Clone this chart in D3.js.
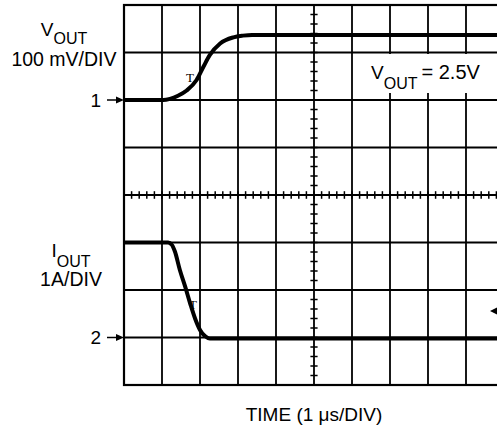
<!DOCTYPE html>
<html><head><meta charset="utf-8">
<script src="https://cdn.jsdelivr.net/npm/d3@7"></script>
<style>
html,body{margin:0;padding:0;background:#fff;}
svg{display:block;}
text{font-family:"Liberation Sans",Arial,Helvetica,sans-serif;fill:#000;}
</style></head><body>
<svg id="chart" width="497" height="431"></svg>
<script>
// ---- data (time in µs; VOUT in mV relative to marker 1; IOUT in A relative to marker 2)
const timeDivs = [0,1,2,3,4,5,6,7,8,9,10];
const vDivs = [-4,-3,-2,-1,0,1,2,3,4];
const voutT  = [0, 1.03, 1.21, 1.42, 1.65, 1.91, 2.09, 2.26, 2.53, 2.88, 3.13, 3.37, 10];
const voutMV = [0, 0,    2.5,  9,    20,   42,   70,   95,   119,  132,  135.5, 137, 137];
const ioutT  = [0, 1.16, 1.26, 1.34, 1.47, 1.61, 1.74, 1.87, 2.0,  2.13, 2.26, 10];
const ioutA  = [2.0, 2.0, 1.95, 1.81, 1.42, 1.07, 0.72, 0.40, 0.16, 0.03, -0.02, -0.02];
const labels = {
  vout: ["V","OUT","100 mV/DIV"],
  iout: ["I","OUT","1A/DIV"],
  xTitle: "TIME (1 \u03BCs/DIV)",
  note: ["V","OUT","= 2.5V"],
  marker1: "1", marker2: "2", trig: "T"
};

const svg = d3.select("#chart");
const x = d3.scaleLinear().domain([0,10]).range([124,504]);
const yDiv = d3.scaleLinear().domain([-4,4]).range([385,5]);
const yV = d3.scaleLinear().domain([-600,200]).range([385,5]);
const yI = d3.scaleLinear().domain([-1,7]).range([385,5]);

const g = svg.append("g");
// grid
g.selectAll("line.vg").data(timeDivs).join("line")
  .attr("x1",d=>x(d)).attr("x2",d=>x(d)).attr("y1",yDiv(4)).attr("y2",yDiv(-4))
  .attr("stroke","#000").attr("stroke-width",1.8);
g.selectAll("line.hg").data(vDivs).join("line")
  .attr("y1",d=>yDiv(d)).attr("y2",d=>yDiv(d)).attr("x1",x(0)).attr("x2",x(10))
  .attr("stroke","#000").attr("stroke-width",1.8);
g.append("rect").attr("x",x(0)).attr("y",yDiv(4)).attr("width",x(10)-x(0)).attr("height",yDiv(-4)-yDiv(4))
  .attr("fill","none").attr("stroke","#000").attr("stroke-width",2.2);

// minor ticks on center axes
const minorX = d3.range(0,10.001,0.2);
const minorY = d3.range(-4,4.001,0.2);
g.selectAll("line.mx").data(minorX).join("line")
  .attr("x1",d=>x(d)).attr("x2",d=>x(d)).attr("y1",yDiv(0)-3.8).attr("y2",yDiv(0)+3.8)
  .attr("stroke","#000").attr("stroke-width",1.5);
g.selectAll("line.my").data(minorY).join("line")
  .attr("y1",d=>yDiv(d)).attr("y2",d=>yDiv(d)).attr("x1",x(5)-3.6).attr("x2",x(5)+3.6)
  .attr("stroke","#000").attr("stroke-width",1.5);

// note box
g.append("rect").attr("x",354).attr("y",54).attr("width",160).attr("height",39).attr("fill","#fff");
const note = g.append("text").attr("x",371).attr("y",79).style("font-size","19px");
note.append("tspan").text(labels.note[0]);
note.append("tspan").attr("dy",10).style("font-size","16px").text(labels.note[1]);
note.append("tspan").attr("dy",-10).attr("dx",4).style("font-size","20px").text(labels.note[2]);

// traces
const lineV = d3.line().x((d,i)=>x(voutT[i])).y(d=>yV(d)).curve(d3.curveMonotoneX);
const lineI = d3.line().x((d,i)=>x(ioutT[i])).y(d=>yI(d)).curve(d3.curveMonotoneX);
g.append("path").attr("d",lineV(voutMV)).attr("fill","none").attr("stroke","#000").attr("stroke-width",4).attr("stroke-linejoin","round");
g.append("path").attr("d",lineI(ioutA)).attr("fill","none").attr("stroke","#000").attr("stroke-width",4).attr("stroke-linejoin","round");

// trigger marks
g.append("text").attr("x",190).attr("y",81.5).attr("text-anchor","middle")
  .style("font-family","'Liberation Serif',serif").style("font-size","13px").text(labels.trig);
g.append("text").attr("x",193).attr("y",308.5).attr("text-anchor","middle")
  .style("font-family","'Liberation Serif',serif").style("font-size","13px").text(labels.trig);

// channel labels
function chanLabel(cx, y, dy, arr, y2){
  const t = svg.append("text").attr("x",cx).attr("y",y).attr("text-anchor","middle").style("font-size","19px");
  t.append("tspan").text(arr[0]);
  t.append("tspan").attr("dy",dy).style("font-size","16px").text(arr[1]);
  svg.append("text").attr("x",cx).attr("y",y2).attr("text-anchor","middle").style("font-size","19.5px").text(arr[2]);
}
chanLabel(64, 35.7, 8.6, labels.vout, 65.7);
chanLabel(71, 256.7, 10, labels.iout, 286);

// ground markers with arrows
function marker(label, yy){
  svg.append("text").attr("x",101).attr("y",yy+6.5).attr("text-anchor","end").style("font-size","19px").text(label);
  svg.append("line").attr("x1",107).attr("x2",118).attr("y1",yy).attr("y2",yy).attr("stroke","#000").attr("stroke-width",1.5);
  svg.append("path").attr("d",`M${124},${yy} L${116},${yy-3.5} L${116},${yy+3.5} Z`).attr("fill","#000");
}
marker(labels.marker1, yV(0));
marker(labels.marker2, yI(0));

// right side arrow (off-screen tail)
svg.append("path").attr("d",`M490,311 L497,307.5 L497,314.5 Z`).attr("fill","#000");

// x title
svg.append("text").attr("x",x(5)).attr("y",420.7).attr("text-anchor","middle").style("font-size","19px").text(labels.xTitle);
</script>
</body></html>
